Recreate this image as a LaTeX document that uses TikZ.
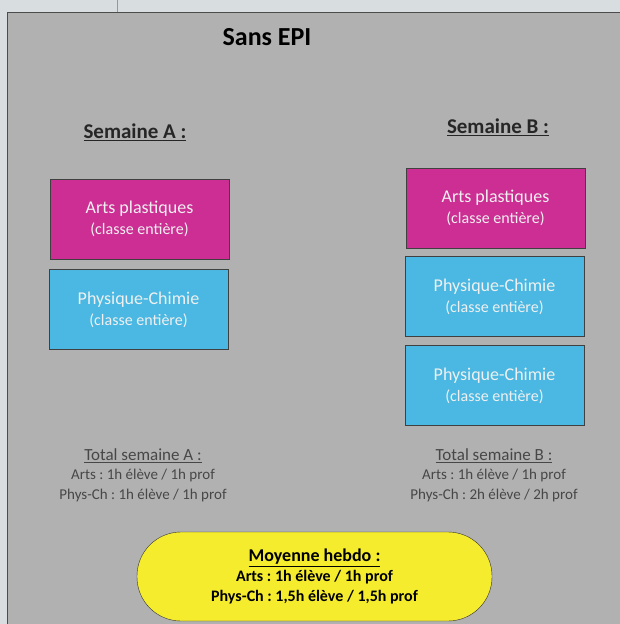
\documentclass[tikz,border=0pt]{standalone}
\usepackage{fontspec}
\setmainfont{Carlito}
\frenchspacing
\definecolor{fond}{HTML}{D8DEE0}
\definecolor{gris}{HTML}{B1B1B1}
\definecolor{artscol}{HTML}{CC2E93}
\definecolor{physcol}{HTML}{4AB8E2}
\definecolor{moycol}{HTML}{F5EC2E}
\tikzset{
  cours/.style={draw=black!75, minimum width=179, minimum height=80, align=center,
    text=white!94!black, font=\fontsize{18}{21}\selectfont},
  arts/.style={cours, fill=artscol},
  phys/.style={cours, fill=physcol},
  semaine/.style={font=\fontsize{21}{24}\selectfont\bfseries, text=black!85},
  total/.style={align=center, text=black!72, font=\fontsize{15}{19.5}\selectfont}
}
\newcommand{\ce}{{\fontsize{16}{21}\selectfont(classe enti\`ere)}}
\newcommand{\titreligne}[1]{{\fontsize{17}{20}\selectfont\underline{#1}}}
\begin{document}
\begin{tikzpicture}[x=1pt,y=-1pt]
    \useasboundingbox (0,0) rectangle (620,624);
    \fill [fond] (0,0) rectangle (620,624);
    \draw [orange, thin] (117,0) -- (117,12);
    \draw [fill=gris, draw=black!70] (7.5,12.5) rectangle (630,634);
    \node [font=\fontsize{26}{30}\selectfont\bfseries] (titre) at (267,37) {Sans EPI};
    % semaine A
    \node [semaine] (semA) at (135,132) {\underline{Semaine A :}};
    \node [arts] (artsA) at (139.5,219) {Arts plastiques\\\ce};
    \node [phys] (physA) at (138.5,309.5) {Physique-Chimie\\\ce};
    \node [total] (totA) at (143,475) {\titreligne{Total semaine A :}\\Arts : 1h élève / 1h prof\\Phys-Ch : 1h élève / 1h prof};
    % semaine B
    \node [semaine] (semB) at (498,127) {\underline{Semaine B :}};
    \node [arts] (artsB) at (495.5,208) {Arts plastiques\\\ce};
    \node [phys] (physB1) at (494.5,296.5) {Physique-Chimie\\\ce};
    \node [phys] (physB2) at (494.5,385.5) {Physique-Chimie\\\ce};
    \node [total] (totB) at (494,475) {\titreligne{Total semaine B :}\\Arts : 1h élève / 1h prof\\Phys-Ch : 2h élève / 2h prof};
    % moyenne
    \node [draw=black!80, fill=moycol, rounded corners=44, minimum width=355, minimum height=89,
      align=center, font=\fontsize{16}{20}\selectfont\bfseries] (moy) at (314.5,576.5)
      {{\fontsize{18}{20}\selectfont\underline{Moyenne hebdo :}}\\Arts : 1h élève / 1h prof\\Phys-Ch : 1,5h élève / 1,5h prof};
\end{tikzpicture}
\end{document}
